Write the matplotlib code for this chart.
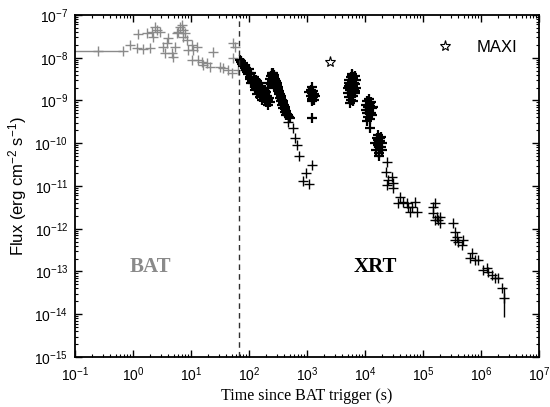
import matplotlib.pyplot as plt
import numpy as np

plt.rcParams['font.family'] = ['Liberation Sans', 'DejaVu Sans']
plt.rcParams['mathtext.fontset'] = 'custom'
plt.rcParams['mathtext.rm'] = 'Liberation Sans'
plt.rcParams['mathtext.it'] = 'Liberation Sans:italic'

# --- Swift/BAT light curve (s, erg cm-2 s-1) ---
bat_bin_t = [0.25]
bat_bin_flux = [1.44e-8]
bat_bin_xerr = [[0.24], [0.37]]

bat_t = [0.67, 0.89, 1.17, 1.49, 1.96, 1.22, 1.74, 2.13, 2.4, 2.58,
         2.93, 2.2, 3.3, 3.56, 3.86, 4.0, 4.7, 4.9, 5.3, 5.7,
         5.98, 6.5, 7.0, 7.3, 7.9, 7.3, 8.5, 8.9, 10.4, 10.8,
         12.6, 10.4, 13.2, 15.4, 16.1, 18.9, 24.1, 21.3, 31.6, 35.8,
         43.6, 51, 52.9, 57, 52.9, 64.5]
bat_flux = [1.44e-8, 2.0e-8, 1.7e-8, 1.6e-8, 1.7e-8, 3.6e-8, 3.8e-8, 4.0e-8, 5.2e-8, 4.45e-8,
            4.0e-8, 3.05e-8, 1.78e-8, 1.29e-8, 2.22e-8, 2.9e-8, 1.29e-8, 1.04e-8, 1.78e-8, 3.8e-8,
            4.0e-8, 5.2e-8, 5.8e-8, 4.45e-8, 3.8e-8, 3.05e-8, 2.6e-8, 1.5e-8, 2.0e-8, 1.5e-8,
            1.78e-8, 8.9e-9, 8.9e-9, 7.9e-9, 6.8e-9, 7.5e-9, 1.36e-8, 6.0e-9, 6.0e-9, 5.7e-9,
            5.1e-9, 4.4e-9, 2.22e-8, 1.78e-8, 9.8e-9, 5.1e-9]

# --- Swift/XRT light curve ---
flare1_t = [70, 72, 74, 76, 78, 80, 82, 85, 88, 90, 93, 96, 99, 102, 106, 110, 114, 118,
            122, 127, 132, 137, 142, 148, 154, 160, 166, 172, 178, 185, 192, 200, 208, 215,
            222, 230, 100, 110, 120, 130, 140, 150, 160, 170, 180, 190, 200, 110, 125, 140,
            155, 170, 185, 200, 215]
flare1_flux = [9.0e-9, 8.0e-9, 8.5e-9, 7.2e-9, 7.6e-9, 6.5e-9, 6.9e-9, 5.8e-9, 5.2e-9, 5.6e-9,
               4.6e-9, 4.1e-9, 4.4e-9, 3.6e-9, 3.2e-9, 3.4e-9, 2.8e-9, 2.5e-9, 2.7e-9, 2.2e-9,
               2.0e-9, 2.3e-9, 1.8e-9, 1.6e-9, 1.9e-9, 1.5e-9, 1.7e-9, 1.3e-9, 1.5e-9, 1.2e-9,
               1.4e-9, 1.1e-9, 1.25e-9, 1.0e-9, 1.15e-9, 9.2e-10, 5.5e-9, 4.5e-9, 3.5e-9, 3.0e-9,
               2.8e-9, 2.5e-9, 2.2e-9, 2.0e-9, 1.8e-9, 1.7e-9, 1.6e-9, 2.6e-9, 1.8e-9, 1.4e-9,
               1.2e-9, 1.05e-9, 1.0e-9, 9.0e-10, 8.0e-10]

flare2_t = [215, 222, 230, 238, 245, 252, 260, 268, 275, 282, 290, 298, 305, 312, 320, 328,
            335, 342, 350, 360, 370, 380, 390, 400, 410, 420, 430, 442, 455, 468, 480, 495,
            510, 255, 265, 280, 295, 310, 325, 340, 355, 370, 390, 410, 430, 240, 250, 260, 270]
flare2_flux = [2.0e-9, 2.6e-9, 3.2e-9, 3.7e-9, 4.1e-9, 4.4e-9, 4.3e-9, 3.9e-9, 3.5e-9, 3.2e-9,
               2.9e-9, 2.6e-9, 2.3e-9, 2.1e-9, 1.9e-9, 1.7e-9, 1.55e-9, 1.4e-9, 1.3e-9, 1.15e-9,
               1.05e-9, 9.5e-10, 8.5e-10, 7.7e-10, 7.0e-10, 6.4e-10, 5.8e-10, 5.3e-10, 4.9e-10,
               4.5e-10, 4.2e-10, 4.0e-10, 3.8e-10, 3.6e-9, 3.2e-9, 2.6e-9, 2.1e-9, 1.7e-9, 1.4e-9,
               1.15e-9, 9.5e-10, 8.0e-10, 6.6e-10, 5.5e-10, 4.6e-10, 2.4e-9, 2.8e-9, 2.5e-9, 2.2e-9]

orbit1_t = [1100, 1150, 1180, 1200, 1220, 1250, 1270, 1300, 1320, 1350, 1230, 1240, 1230]
orbit1_flux = [1.6e-9, 1.3e-9, 1.8e-9, 1.1e-9, 1.5e-9, 1.2e-9, 1.7e-9, 1.0e-9, 1.4e-9, 1.25e-9,
               2.1e-9, 9.5e-10, 3.9e-10]

orbit2_t = [5000, 5100, 5200, 5300, 5400, 5500, 5600, 5700, 5800, 5900, 6000, 6000, 6100, 6200,
            6300, 6400, 6500, 6600, 6700, 6800, 6900, 7000, 5600, 6200, 5900, 6300, 5300, 6700]
orbit2_flux = [2.0e-9, 1.5e-9, 2.6e-9, 1.2e-9, 3.0e-9, 1.8e-9, 2.3e-9, 1.0e-9, 3.5e-9, 2.8e-9,
               4.2e-9, 1.6e-9, 2.2e-9, 3.2e-9, 1.3e-9, 2.6e-9, 1.9e-9, 3.8e-9, 2.4e-9, 1.5e-9,
               3.0e-9, 2.0e-9, 8.5e-10, 9.5e-10, 3.9e-9, 3.6e-9, 2.2e-9, 1.7e-9]

orbit3_t = [10200, 10500, 10800, 11000, 11200, 11400, 11600, 11800, 12000, 12200, 12400,
            12600, 12800, 13000, 13300, 13600, 11000, 12200]
orbit3_flux = [6.0e-10, 8.0e-10, 5.0e-10, 9.5e-10, 7.0e-10, 4.2e-10, 1.1e-9, 6.0e-10, 8.5e-10,
               3.6e-10, 7.5e-10, 5.2e-10, 9.0e-10, 6.5e-10, 4.5e-10, 7.0e-10, 3.3e-10, 2.3e-10]

orbit4_t = [15000, 15500, 16000, 16500, 17000, 17500, 18000, 18500, 19000, 19500, 20000,
            17500, 16800, 18200]
orbit4_flux = [1.0e-10, 7.0e-11, 1.3e-10, 9.0e-11, 1.6e-10, 6.0e-11, 1.1e-10, 8.0e-11, 1.4e-10,
               1.0e-10, 7.0e-11, 5.0e-11, 1.2e-10, 1.3e-10]

sparse_t = [470, 574, 621, 673, 728, 1220, 962, 853, 1080,
            23900, 23000, 25000, 23900, 29200, 30400, 30400, 40100, 37100, 45200, 53000,
            55100, 64600, 72800, 78900, 59700, 148600, 161000, 148600, 174000, 181500,
            196000, 196000, 161000, 329000, 356000, 385000, 356000, 401000, 490000, 470000,
            700000, 646000, 789000, 887000, 1.08e6, 1.27e6, 1.32e6, 1.55e6, 1.74e6, 1.96e6,
            2.3e6]
sparse_flux = [3.1e-10, 2.3e-10, 1.33e-10, 9.1e-11, 5.0e-11, 3.1e-11, 2.0e-11, 1.31e-11, 1.11e-11,
               3.6e-11, 2.1e-11, 1.38e-11, 1.05e-11, 1.63e-11, 1.17e-11, 9.0e-12, 5.5e-12, 4.0e-12,
               4.2e-12, 4.0e-12, 3.2e-12, 3.2e-12, 4.2e-12, 2.5e-12, 2.5e-12, 3.2e-12, 4.0e-12,
               2.3e-12, 1.9e-12, 1.6e-12, 1.36e-12, 1.9e-12, 1.6e-12, 1.36e-12, 8.4e-13, 6.4e-13,
               5.5e-13, 4.9e-13, 5.5e-13, 4.2e-13, 2.7e-13, 2.1e-13, 1.86e-13, 1.86e-13, 1.08e-13,
               1.21e-13, 9.7e-14, 8.3e-14, 7.0e-14, 7.0e-14, 4.1e-14]

last_t = [2.5e6]
last_flux = [2.4e-14]
last_yerr = [[1.55e-14], [2.0e-14]]

maxi_t = [2500]
maxi_flux = [7.9e-9]

bat_end = 68

bat_color = '#8a8a8a'

fig = plt.figure(figsize=(5.5, 4.07), dpi=100)
ax = fig.add_axes([0.1364, 0.1229, 0.8436, 0.8403])

ax.errorbar(bat_bin_t, bat_bin_flux, xerr=bat_bin_xerr, fmt='+', color=bat_color,
            ms=7, mew=1.0, elinewidth=1.0)
ax.plot(bat_t, bat_flux, '+', color=bat_color, ms=7, mew=1.0)

dense_t = flare1_t + flare2_t + orbit1_t + orbit2_t + orbit3_t + orbit4_t
dense_flux = flare1_flux + flare2_flux + orbit1_flux + orbit2_flux + orbit3_flux + orbit4_flux
ax.plot(dense_t, dense_flux, '+', color='black', ms=7, mew=1.6)
ax.plot(sparse_t, sparse_flux, '+', color='black', ms=7, mew=1.0)
ax.errorbar(last_t, last_flux, yerr=last_yerr, fmt='+', color='black',
            ms=7, mew=1.0, elinewidth=1.0)

ax.plot(maxi_t, maxi_flux, '*', ms=8, mfc='white', mec='black', mew=0.8,
        linestyle='none', label='MAXI')

ax.axvline(bat_end, color='#303030', lw=1.0, ls=(0, (4, 3)))

ax.set_xscale('log')
ax.set_yscale('log')
ax.set_xlim(1e-1, 1e7)
ax.set_ylim(1e-15, 1e-7)
ax.set_xticks([10.0 ** k for k in range(-1, 8)])
ax.set_yticks([10.0 ** k for k in range(-15, -6)])

ax.tick_params(which='both', direction='in', top=True, right=True, labelsize=10)
ax.tick_params(which='major', length=5, width=1.0)
ax.tick_params(which='minor', length=2.5, width=0.8)
ax.tick_params(axis='x', which='major', pad=6)
ax.tick_params(axis='y', which='major', pad=5)
for s in ax.spines.values():
    s.set_linewidth(1.3)

ax.set_xlabel('Time since BAT trigger (s)', family='Liberation Serif', fontsize=11.5, labelpad=3)
ax.set_ylabel('Flux (erg cm$^{-2}$ s$^{-1}$)', fontsize=12, labelpad=4)

ax.text(2.0, 1.3e-13, 'BAT', family='Liberation Serif', fontweight='bold',
        fontsize=15, color=bat_color, ha='center', va='center')
ax.text(1.5e4, 1.3e-13, 'XRT', family='Liberation Serif', fontweight='bold',
        fontsize=15, color='black', ha='center', va='center')

ax.legend(loc='upper right', bbox_to_anchor=(0.985, 0.97), frameon=False, fontsize=12,
          handletextpad=0.9, markerscale=1.0)

fig.savefig('out.png', dpi=100)
